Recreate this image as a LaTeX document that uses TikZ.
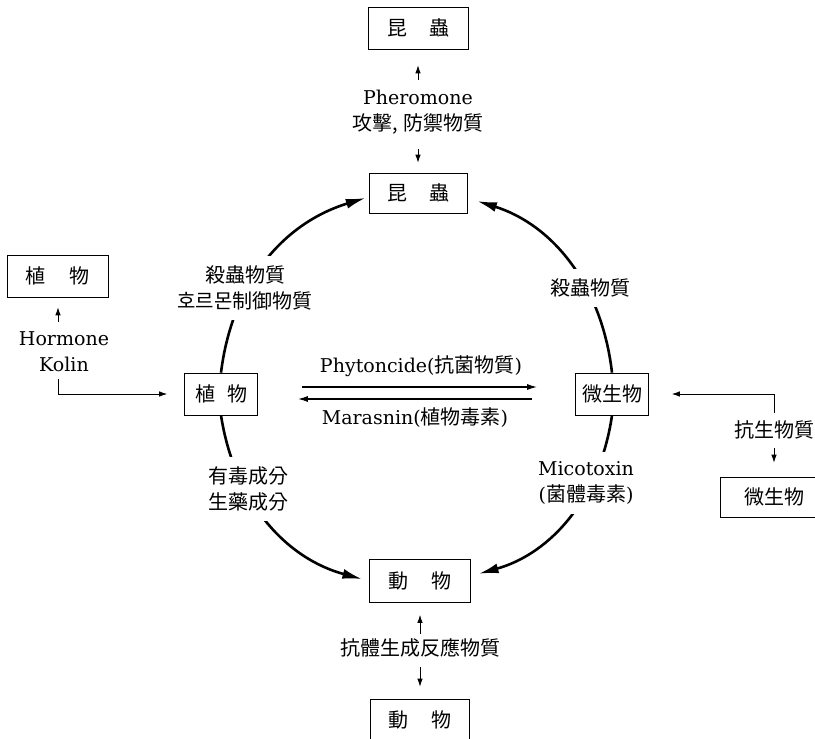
\documentclass[tikz,border=0pt]{standalone}
\usepackage{fontspec}
\setmainfont{DejaVu Serif}
\newfontfamily\kr{Noto Sans CJK KR}
\newcommand{\kor}[1]{{\kr\fontsize{20}{26}\selectfont #1}}
\usetikzlibrary{arrows.meta}

\begin{document}
\begin{tikzpicture}[x=1pt, y=-1pt, font=\fontsize{19}{26}\selectfont,
  >={Latex[length=8pt,width=5.5pt]}]
\tikzstyle{bx}=[draw, line width=0.7pt, minimum height=42pt, font=\kr\fontsize{20}{26}\selectfont]
\tikzstyle{lb}=[align=center, inner sep=0pt]
\tikzstyle{gap}=[lb, fill=white, inner sep=10pt]
\tikzstyle{sm}=[->, line width=0.8pt]
\tikzstyle{hz}=[line width=1.3pt, -{Latex[length=10pt,width=6pt]}]
\tikzstyle{cyc}=[line width=2.6pt, -{Latex[length=20pt,width=10pt]}]
\clip (0,0) rectangle (815,739);
% boxes
\node[bx, minimum width=100pt] (topins) at (418,28) {昆\hspace{1.1em}蟲};
\node[bx, minimum width=98pt, minimum height=40pt] (ins) at (418,193) {昆\hspace{1.1em}蟲};
\node[bx, minimum width=101pt] (leftplant) at (58,276) {植\hspace{1.2em}物};
\node[bx, minimum width=73pt] (plant) at (221,394) {植\hspace{0.6em}物};
\node[bx, minimum width=73pt] (microbe) at (612,394) {微生物};
\node[bx, minimum width=108pt, minimum height=40pt] (rightmicrobe) at (774,497) {微生物};
\node[bx, minimum width=101pt, minimum height=43pt] (animal) at (420,581) {動\hspace{1.2em}物};
\node[bx, minimum width=99pt] (botanimal) at (420,720) {動\hspace{1.2em}物};
% labels
\node[lb] (phero) at (418,112) {Pheromone\\\kor{攻擊, 防禦物質}};
\node[lb] (hormone) at (64,352) {Hormone\\Kolin};
\node[lb] (anti) at (774,430) {\kor{抗生物質}};
\node[lb] (antibody) at (420,648) {\kor{抗體生成反應物質}};
\node[lb] (phyto) at (421,366) {Phytoncide(\kor{抗菌物質})};
\node[lb] (maras) at (415,418) {Marasnin(\kor{植物毒素})};
% the cycle
\draw[cyc, shorten >=3pt] (plant.north) to[bend left=33] ([yshift=-4pt]ins.west);
\draw[cyc, shorten >=10pt] (microbe.north) to[bend right=33] ([yshift=-5pt]ins.east);
\draw[cyc, shorten >=7pt] (plant.south) to[bend right=33] (animal.west);
\draw[cyc, shorten >=8pt] (microbe.south) to[bend left=33] ([yshift=5pt]animal.east);
\node[gap] (killUL) at (245,288) {\kor{殺蟲物質}\\\kor{호르몬制御物質}};
\node[gap] (killUR) at (590,288) {\kor{殺蟲物質}};
\node[gap] (toxic) at (248,489) {\kor{有毒成分}\\\kor{生藥成分}};
\node[gap] (myco) at (586,483) {Micotoxin\\(\kor{菌體毒素})};
% between plant and microbe
\draw[hz, shorten <=44pt, shorten >=38pt] ([yshift=7pt]plant.east) -- ([yshift=7pt]microbe.west);
\draw[hz, shorten <=43pt, shorten >=40pt] ([yshift=-5pt]microbe.west) -- ([yshift=-5pt]plant.east);
% small arrows
\path[sm]
(phero)    edge[shorten <=10pt, shorten >=16pt] (topins)
           edge[shorten <=15pt, shorten >=10pt] (ins)
(antibody) edge[shorten <=5pt, shorten >=12pt]  (animal)
           edge[shorten <=10pt, shorten >=12pt] (botanimal)
(anti)     edge[shorten <=9pt, shorten >=14pt]  (rightmicrobe);
\draw[sm, shorten <=10pt, shorten >=10pt] (hormone.north -| leftplant) -- (leftplant);
\draw[sm, shorten <=7pt, shorten >=17pt] (hormone.south -| leftplant) |- (plant);
\draw[sm, shorten <=8pt, shorten >=23pt] (anti) |- (microbe);
\end{tikzpicture}
\end{document}
